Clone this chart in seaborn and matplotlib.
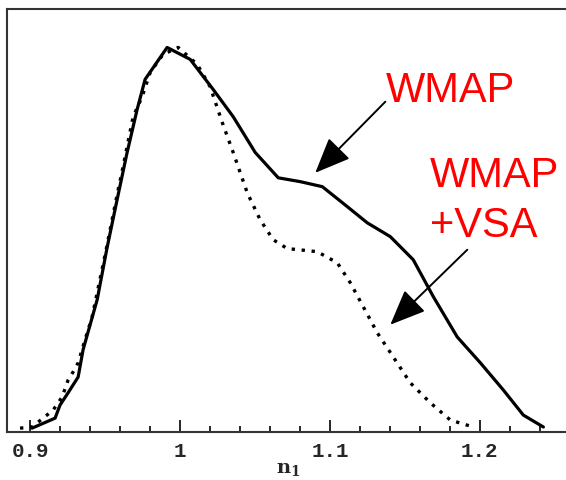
import matplotlib

matplotlib.use("Agg")
import matplotlib.pyplot as plt
import pandas as pd
import seaborn as sns
from matplotlib.ticker import MultipleLocator

# marginalised likelihood for n_1, WMAP only (solid)
wmap_n = [0.9011, 0.9165, 0.9198, 0.9252, 0.9319, 0.9352, 0.9399, 0.9446, 0.9512, 0.9579,
          0.9646, 0.9713, 0.9766, 0.9913, 1.0067, 1.0220, 1.0354, 1.0501, 1.0655, 1.0802,
          1.0949, 1.1116, 1.1249, 1.1403, 1.1556, 1.1690, 1.1850, 1.2004, 1.2158, 1.2291,
          1.2425]
wmap_p = [0.010, 0.036, 0.070, 0.102, 0.143, 0.214, 0.279, 0.344, 0.479, 0.604,
          0.727, 0.839, 0.917, 1.000, 0.969, 0.891, 0.820, 0.727, 0.661, 0.651,
          0.638, 0.586, 0.544, 0.508, 0.448, 0.352, 0.247, 0.180, 0.109, 0.044,
          0.013]

# WMAP + VSA (dotted)
vsa_n = [0.8931, 0.9011, 0.9085, 0.9152, 0.9212, 0.9252, 0.9285, 0.9319, 0.9365, 0.9412,
         0.9499, 0.9586, 0.9619, 0.9686, 0.9746, 0.9800, 0.9886, 0.9987, 1.0114, 1.0200,
         1.0281, 1.0354, 1.0448, 1.0534, 1.0621, 1.0715, 1.0915, 1.1049, 1.1136, 1.1222,
         1.1316, 1.1423, 1.1536, 1.1670, 1.1804, 1.1957]
vsa_p = [0.010, 0.013, 0.036, 0.057, 0.091, 0.135, 0.156, 0.180, 0.240, 0.299,
         0.461, 0.630, 0.690, 0.820, 0.872, 0.935, 0.982, 1.000, 0.956, 0.898,
         0.805, 0.727, 0.622, 0.552, 0.500, 0.477, 0.469, 0.440, 0.388, 0.326,
         0.258, 0.195, 0.128, 0.076, 0.031, 0.013]

tick_vals = [0.9, 1.0, 1.1, 1.2]
tick_labels = ["0.9", "1", "1.1", "1.2"]

sns.set_style("ticks")
plt.rcParams["mathtext.fontset"] = "dejavuserif"

df = pd.concat([
    pd.DataFrame({"n1": wmap_n, "L": wmap_p, "data": "WMAP"}),
    pd.DataFrame({"n1": vsa_n, "L": vsa_p, "data": "WMAP+VSA"}),
])

fig = plt.figure(figsize=(5.66, 4.80), dpi=100)
ax = fig.add_axes([7 / 566, 48 / 480, 562 / 566, 423 / 480])

sns.lineplot(data=df[df["data"] == "WMAP"], x="n1", y="L", ax=ax,
             color="black", linewidth=2.3, sort=False)
sns.lineplot(data=df[df["data"] == "WMAP+VSA"], x="n1", y="L", ax=ax,
             color="black", linewidth=2.4, linestyle=(0, (1, 2.0)), sort=False)

ax.set_xlim(0.8844, 1.2596)
ax.set_ylim(0, 1.10)
ax.set_yticks([])
ax.set_ylabel("")
ax.set_xticks(tick_vals)
ax.set_xticklabels(tick_labels, family="Liberation Mono", fontweight="bold", fontsize=15)
ax.xaxis.set_minor_locator(MultipleLocator(0.02))
ax.tick_params(axis="x", which="major", direction="in", length=8.5, width=1.4, pad=7, top=False)
ax.tick_params(axis="x", which="minor", direction="in", length=4, width=1.4, top=False)
ax.set_xlabel(r"$\mathbf{n}_\mathbf{1}$", fontsize=14, labelpad=-1)

for side in ["left", "top", "bottom"]:
    ax.spines[side].set_color("#333333")
    ax.spines[side].set_linewidth(1.5)
ax.spines["right"].set_visible(False)

red_font = dict(color="red", fontsize=30, family="Liberation Sans", va="baseline", ha="left")
ax.text(1.137, 0.859, "WMAP", **red_font)
ax.text(1.167, 0.638, "WMAP", **red_font)
ax.text(1.167, 0.508, "+VSA", **red_font)

arrow = dict(arrowstyle="-|>,head_length=1.0,head_width=0.42", color="black",
             lw=1.4, mutation_scale=22, shrinkA=0, shrinkB=0)
ax.annotate("", xy=(1.0902, 0.674), xytext=(1.137, 0.859), arrowprops=arrow)
ax.annotate("", xy=(1.1403, 0.279), xytext=(1.1917, 0.474), arrowprops=arrow)

fig.savefig("out.png", dpi=100)
